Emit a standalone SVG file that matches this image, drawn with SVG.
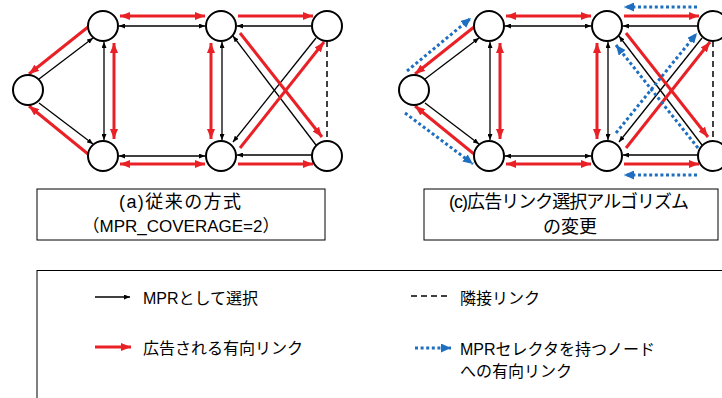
<svg xmlns="http://www.w3.org/2000/svg" width="722" height="398" viewBox="0 0 722 398">
<style>
.node{fill:#fff;stroke:#000;stroke-width:2}
.k{stroke:#000;stroke-width:1.3;fill:none}
.r{stroke:#E92127;stroke-width:3;fill:none}
.b{stroke:#1F6FC0;stroke-width:3;fill:none;stroke-dasharray:3 2.6}
.d{stroke:#000;stroke-width:1.5;fill:none;stroke-dasharray:6 4}
.box{fill:#fff;stroke:#000;stroke-width:1}
text{font-family:"Liberation Sans","Noto Sans CJK JP",sans-serif;fill:#000}
.cap{font-size:18px;text-anchor:middle}
.cap2{font-size:17px;text-anchor:middle}
.lg{font-size:16px}
</style>
<defs>
<marker id="mk" markerUnits="userSpaceOnUse" markerWidth="6" markerHeight="5" refX="6" refY="2.5" orient="auto-start-reverse"><path d="M0,0 L6,2.5 L0,5 z" fill="#000"/></marker>
<marker id="mr" markerUnits="userSpaceOnUse" markerWidth="10" markerHeight="8" refX="10" refY="4" orient="auto-start-reverse"><path d="M0,0 L10,4 L0,8 z" fill="#E92127"/></marker>
<marker id="mb" markerUnits="userSpaceOnUse" markerWidth="10" markerHeight="9" refX="10" refY="4.5" orient="auto-start-reverse"><path d="M0,0 L10,4.5 L0,9 z" fill="#1F6FC0"/></marker>
</defs>

<g id="connectors">
  <g id="conn-a">
    <line class="k" x1="39" y1="79" x2="93" y2="38" marker-end="url(#mk)"/>
    <line class="k" x1="39" y1="103" x2="93" y2="144" marker-end="url(#mk)"/>
    <line class="k" x1="104" y1="42" x2="104" y2="140" marker-start="url(#mk)" marker-end="url(#mk)"/>
    <line class="k" x1="119" y1="26" x2="205" y2="26" marker-start="url(#mk)" marker-end="url(#mk)"/>
    <line class="k" x1="119" y1="156" x2="205" y2="156" marker-start="url(#mk)" marker-end="url(#mk)"/>
    <line class="k" x1="222" y1="42" x2="222" y2="140" marker-start="url(#mk)" marker-end="url(#mk)"/>
    <line class="k" x1="312" y1="26" x2="237" y2="26" marker-end="url(#mk)"/>
    <line class="k" x1="312" y1="155" x2="237" y2="155" marker-end="url(#mk)"/>
    <line class="k" x1="316" y1="38" x2="233" y2="142" marker-end="url(#mk)"/>
    <line class="k" x1="316" y1="145" x2="233" y2="36" marker-end="url(#mk)"/>
    <line class="d" x1="327" y1="41" x2="327" y2="141"/>
    <line class="r" x1="88" y1="27" x2="29" y2="74" marker-end="url(#mr)"/>
    <line class="r" x1="88" y1="154" x2="29" y2="106" marker-end="url(#mr)"/>
    <line class="r" x1="114" y1="43" x2="114" y2="139" marker-start="url(#mr)" marker-end="url(#mr)"/>
    <line class="r" x1="120" y1="16" x2="205" y2="16" marker-start="url(#mr)" marker-end="url(#mr)"/>
    <line class="r" x1="120" y1="164" x2="205" y2="164" marker-start="url(#mr)" marker-end="url(#mr)"/>
    <line class="r" x1="211" y1="43" x2="211" y2="139" marker-start="url(#mr)" marker-end="url(#mr)"/>
    <line class="r" x1="238" y1="16" x2="313" y2="16" marker-end="url(#mr)"/>
    <line class="r" x1="238" y1="164" x2="313" y2="164" marker-end="url(#mr)"/>
    <line class="r" x1="240" y1="33" x2="322" y2="137" marker-end="url(#mr)"/>
    <line class="r" x1="240" y1="148" x2="324" y2="42" marker-end="url(#mr)"/>
  </g>
  <g id="conn-c">
    <g transform="translate(386,0)">
    <line class="k" x1="39" y1="79" x2="93" y2="38" marker-end="url(#mk)"/>
    <line class="k" x1="39" y1="103" x2="93" y2="144" marker-end="url(#mk)"/>
    <line class="k" x1="104" y1="42" x2="104" y2="140" marker-start="url(#mk)" marker-end="url(#mk)"/>
    <line class="k" x1="119" y1="26" x2="205" y2="26" marker-start="url(#mk)" marker-end="url(#mk)"/>
    <line class="k" x1="119" y1="156" x2="205" y2="156" marker-start="url(#mk)" marker-end="url(#mk)"/>
    <line class="k" x1="222" y1="42" x2="222" y2="140" marker-start="url(#mk)" marker-end="url(#mk)"/>
    <line class="k" x1="312" y1="26" x2="237" y2="26" marker-end="url(#mk)"/>
    <line class="k" x1="312" y1="155" x2="237" y2="155" marker-end="url(#mk)"/>
    <line class="k" x1="316" y1="38" x2="233" y2="142" marker-end="url(#mk)"/>
    <line class="k" x1="316" y1="145" x2="233" y2="36" marker-end="url(#mk)"/>
    <line class="d" x1="327" y1="41" x2="327" y2="141"/>
    <line class="r" x1="88" y1="27" x2="29" y2="74" marker-end="url(#mr)"/>
    <line class="r" x1="88" y1="154" x2="29" y2="106" marker-end="url(#mr)"/>
    <line class="r" x1="114" y1="43" x2="114" y2="139" marker-start="url(#mr)" marker-end="url(#mr)"/>
    <line class="r" x1="120" y1="16" x2="205" y2="16" marker-start="url(#mr)" marker-end="url(#mr)"/>
    <line class="r" x1="120" y1="164" x2="205" y2="164" marker-start="url(#mr)" marker-end="url(#mr)"/>
    <line class="r" x1="211" y1="43" x2="211" y2="139" marker-start="url(#mr)" marker-end="url(#mr)"/>
    <line class="r" x1="238" y1="16" x2="313" y2="16" marker-end="url(#mr)"/>
    <line class="r" x1="238" y1="164" x2="313" y2="164" marker-end="url(#mr)"/>
    <line class="r" x1="240" y1="33" x2="322" y2="137" marker-end="url(#mr)"/>
    <line class="r" x1="240" y1="148" x2="324" y2="42" marker-end="url(#mr)"/>
    </g>
    <line class="b" x1="407" y1="71" x2="471" y2="18" marker-end="url(#mb)"/>
    <line class="b" x1="405" y1="113" x2="473" y2="164" marker-end="url(#mb)"/>
    <line class="b" x1="697" y1="7" x2="624" y2="7" marker-end="url(#mb)"/>
    <line class="b" x1="697" y1="175" x2="624" y2="175" marker-end="url(#mb)"/>
    <line class="b" x1="616" y1="133" x2="697" y2="33" marker-end="url(#mb)"/>
    <line class="b" x1="698" y1="148" x2="616" y2="45" marker-end="url(#mb)"/>
  </g>
</g>

<g id="node-a-L"><circle class="node" cx="28" cy="90" r="15"/></g>
<g id="node-a-TL"><circle class="node" cx="103" cy="26" r="15"/></g>
<g id="node-a-BL"><circle class="node" cx="103" cy="156" r="15"/></g>
<g id="node-a-TM"><circle class="node" cx="221" cy="26" r="15"/></g>
<g id="node-a-BM"><circle class="node" cx="221" cy="156" r="15"/></g>
<g id="node-a-TR"><circle class="node" cx="327" cy="26" r="15"/></g>
<g id="node-a-BR"><circle class="node" cx="327" cy="156" r="15"/></g>

<g id="node-c-L"><circle class="node" cx="414" cy="90" r="15"/></g>
<g id="node-c-TL"><circle class="node" cx="489" cy="26" r="15"/></g>
<g id="node-c-BL"><circle class="node" cx="489" cy="156" r="15"/></g>
<g id="node-c-TM"><circle class="node" cx="607" cy="26" r="15"/></g>
<g id="node-c-BM"><circle class="node" cx="607" cy="156" r="15"/></g>
<g id="node-c-TR"><circle class="node" cx="713" cy="26" r="15"/></g>
<g id="node-c-BR"><circle class="node" cx="713" cy="156" r="15"/></g>

<g id="caption-a">
  <rect class="box" x="37" y="189" width="288" height="51"/>
  <text class="cap" x="180" y="208" textLength="122">(a)従来の方式</text>
  <text class="cap2" x="181" y="232">（MPR_COVERAGE=2）</text>
</g>
<g id="caption-c">
  <rect class="box" x="424" y="189" width="294" height="51"/>
  <text class="cap" x="569" y="208" textLength="240">(c)広告リンク選択アルゴリズム</text>
  <text class="cap" x="570" y="233">の変更</text>
</g>

<g id="legend">
  <rect class="box" x="37" y="270.5" width="700" height="140"/>
  <line class="k" x1="95" y1="297" x2="130" y2="297" marker-end="url(#mk)"/>
  <text class="lg" x="143" y="304">MPRとして選択</text>
  <line class="r" x1="95" y1="347" x2="131" y2="347" marker-end="url(#mr)"/>
  <text class="lg" x="143" y="354">広告される有向リンク</text>
  <line class="d" x1="411" y1="296" x2="449" y2="296"/>
  <text class="lg" x="460" y="304">隣接リンク</text>
  <line class="b" x1="415" y1="348" x2="451" y2="348" marker-end="url(#mb)"/>
  <text class="lg" x="460" y="355">MPRセレクタを持つノード</text>
  <text class="lg" x="460" y="377">への有向リンク</text>
</g>
</svg>
